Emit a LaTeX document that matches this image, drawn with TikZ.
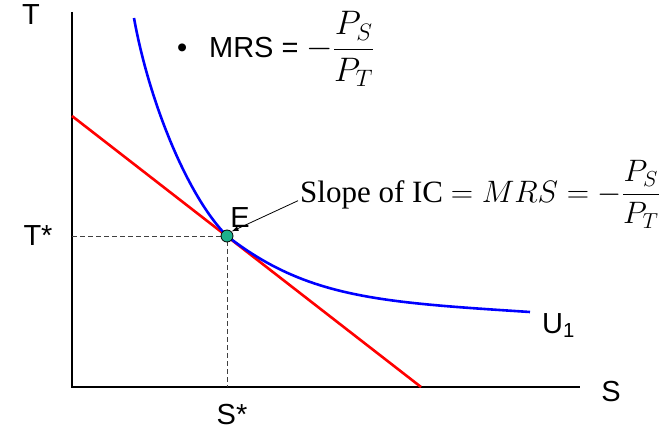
\RequirePackage{fix-cm}
\documentclass[tikz,border=0pt]{standalone}
\usepackage{amsmath}
\usepackage{fontspec}
\setmainfont{Liberation Sans}
\newfontfamily\slopefont{Liberation Serif}
\usetikzlibrary{arrows.meta}
\definecolor{eqgreen}{RGB}{30,176,140}

\begin{document}
\begin{tikzpicture}[x=1pt,y=-1pt,
      axis/.style={line width=2pt,black},
      guide/.style={line width=0.9pt,black!75,dash pattern=on 5pt off 3pt},
      budget/.style={line width=2.6pt,red},
      ic/.style={line width=2.6pt,blue},
      dot/.style={circle,draw=black,line width=0.8pt,fill=eqgreen,minimum size=12pt,inner sep=0pt},
      lbl/.style={font=\fontsize{29}{34}\selectfont,inner sep=0pt},
      slopetxt/.style={font=\slopefont\fontsize{31}{36}\selectfont,inner sep=0pt},
      ptr/.style={-{Latex[length=7pt,width=5pt]},line width=0.8pt,black}
    ]
    \useasboundingbox (0,0) rectangle (662,433);

    % axes
    \coordinate (top) at (72,12);
    \coordinate (O) at (72,387);
    \coordinate (right) at (580,387);
    \draw[axis] (top) -- (O) -- (right);

    % equilibrium guides
    \coordinate (e) at (227,236);
    \coordinate (ty) at (72,236);
    \coordinate (sx) at (227,387);
    \draw[guide] (ty) -- (e) -- (sx);

    % budget line and indifference curve
    \coordinate (b1) at (72,116);
    \coordinate (b2) at (421,387);
    \draw[budget] (b1) -- (b2);
    \draw[ic] (134,18) .. controls (149.3,103) and (188.2,197.2) .. (e)
              .. controls (307,298.1) and (380,302.25) .. (530,312);

    \node[dot] (E) at (e) {};

    % labels
    \node[lbl] (T) at (31,15) {T};
    \node[lbl] (Tstar) at (38,236) {T*};
    \node[lbl] (S) at (611,392) {S};
    \node[lbl,anchor=north] (Sstar) at (232,404) {S*};
    \node[lbl,anchor=base west] (U) at (542,333) {U\textsubscript{1}};
    \node[lbl] (Elbl) at (240,218) {E};

    \node[lbl,anchor=base west] (mrs) at (177,58)
      {\textbullet\hspace{0.75em}MRS = {\fontsize{34}{40}\selectfont$-\dfrac{P_S}{P_T}$}};

    \node[slopetxt,anchor=base west] (slope) at (300,202.7)
      {Slope of IC $= MRS = -\dfrac{P_S}{P_T}$};
    \draw[ptr] ([shift={(-2,-2)}]slope.base west) -- (E.north east);
  \end{tikzpicture}
\end{document}
